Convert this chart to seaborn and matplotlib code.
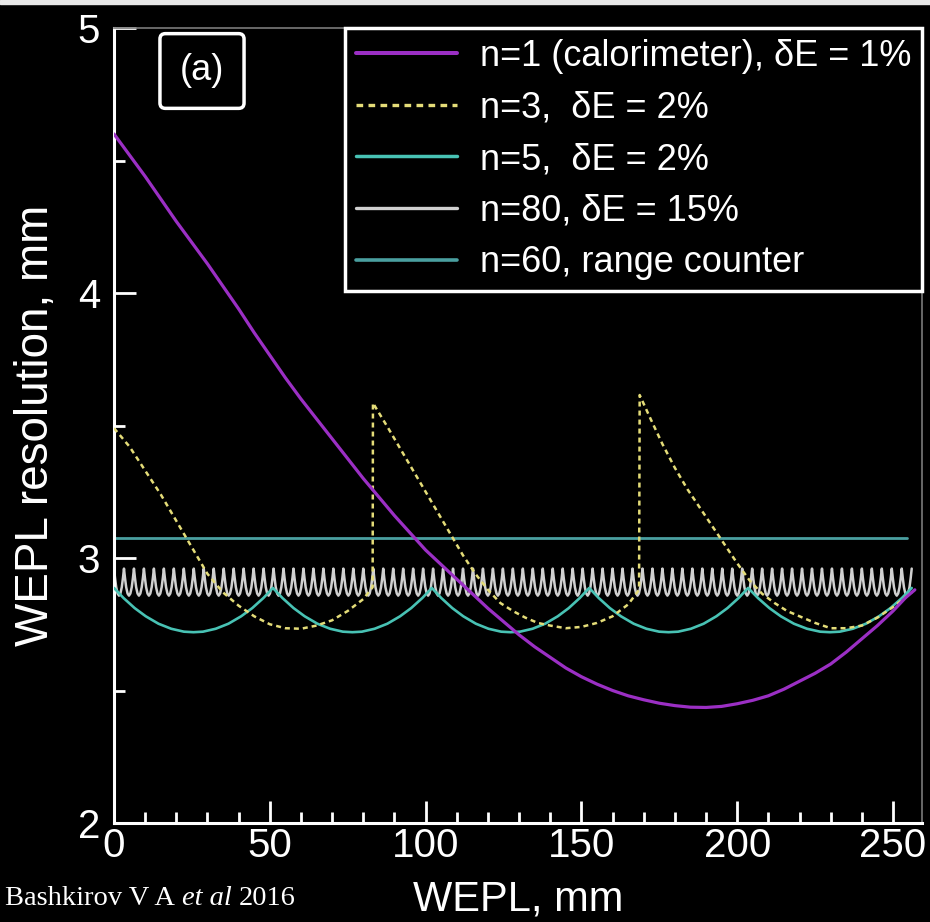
import matplotlib
matplotlib.use("Agg")
import matplotlib.pyplot as plt
import numpy as np
import pandas as pd
import seaborn as sns
from matplotlib.ticker import MultipleLocator
from matplotlib.patches import Rectangle

# ---------------- data ----------------
# n=1 calorimeter
cal_x = [0, 5, 10, 15, 20, 25, 30, 35, 40, 45, 50, 55, 60, 65, 70, 75, 80, 85,
         90, 95, 100, 105, 110, 115, 120, 125, 130, 135, 140, 145, 150, 155,
         160, 165, 170, 175, 180, 185, 190, 195, 200, 205, 210, 215, 220, 225,
         230, 235, 240, 245, 250, 254, 257]
cal_y = [4.60, 4.52, 4.44, 4.355, 4.27, 4.19, 4.11, 4.025, 3.94, 3.85, 3.765,
         3.68, 3.60, 3.525, 3.45, 3.375, 3.30, 3.23, 3.16, 3.095, 3.03, 2.975,
         2.92, 2.865, 2.81, 2.76, 2.71, 2.665, 2.625, 2.585, 2.552, 2.524, 2.50,
         2.48, 2.465, 2.452, 2.443, 2.437, 2.436, 2.44, 2.45, 2.463, 2.48,
         2.505, 2.535, 2.565, 2.60, 2.645, 2.695, 2.745, 2.80, 2.85, 2.88]

# n=3, dE=2%
n3_x = [0, 5, 10, 15, 20, 25, 30, 35, 40, 45, 50, 55, 60, 65, 70, 75, 80, 83.0,
        83.1, 88, 92, 96, 100, 104, 108, 112, 116, 120, 124, 128, 132, 136, 140,
        145, 150, 155, 160, 165, 168.5,
        168.7, 172, 176, 180, 184, 188, 192, 196, 200, 204, 208, 212, 216, 220,
        225, 230, 235, 240, 245, 250, 256]
n3_y = [3.49, 3.42, 3.33, 3.24, 3.14, 3.04, 2.94, 2.87, 2.82, 2.78, 2.75, 2.735,
        2.733, 2.745, 2.765, 2.80, 2.845, 2.89,
        3.585, 3.49, 3.41, 3.33, 3.25, 3.17, 3.09, 3.01, 2.94, 2.88, 2.83, 2.80,
        2.775, 2.755, 2.745, 2.735, 2.74, 2.755, 2.78, 2.825, 2.88,
        3.615, 3.53, 3.43, 3.34, 3.26, 3.19, 3.12, 3.05, 2.98, 2.915, 2.865,
        2.83, 2.80, 2.78, 2.755, 2.735, 2.735, 2.745, 2.775, 2.815, 2.87]

# n=5, dE=2%: layer boundaries and arc profile within one layer
n5_edges = [0, 51, 102, 152.5, 203.5, 256]
n5_arc_frac = [0, 0.06, 0.13, 0.2, 0.28, 0.36, 0.44, 0.5, 0.56, 0.64, 0.72,
               0.8, 0.87, 0.94, 1.0]
n5_arc_y = [2.887, 2.849, 2.811, 2.780, 2.752, 2.733, 2.722, 2.720, 2.722,
            2.733, 2.752, 2.780, 2.811, 2.849, 2.887]

# n=80, dE=15%: layer boundaries and arc profile within one layer
n80_edges = [0, 3.2, 6.4, 9.6, 12.8, 16, 19.2, 22.4, 25.6, 28.8, 32, 35.2,
             38.4, 41.6, 44.8, 48, 51.2, 54.4, 57.6, 60.8, 64, 67.2, 70.4,
             73.6, 76.8, 80, 83.2, 86.4, 89.6, 92.8, 96, 99.2, 102.4, 105.6,
             108.8, 112, 115.2, 118.4, 121.6, 124.8, 128, 131.2, 134.4, 137.6,
             140.8, 144, 147.2, 150.4, 153.6, 156.8, 160, 163.2, 166.4, 169.6,
             172.8, 176, 179.2, 182.4, 185.6, 188.8, 192, 195.2, 198.4, 201.6,
             204.8, 208, 211.2, 214.4, 217.6, 220.8, 224, 227.2, 230.4, 233.6,
             236.8, 240, 243.2, 246.4, 249.6, 252.8, 256]
n80_arc_frac = [0, 0.1, 0.22, 0.36, 0.5, 0.64, 0.78, 0.9, 1.0]
n80_arc_y = [2.96, 2.925, 2.89, 2.866, 2.858, 2.866, 2.89, 2.925, 2.96]

# n=60 range counter
rc_x = [0, 254.5]
rc_y = [3.075, 3.075]

labels = ["n=1 (calorimeter), \u03b4E = 1%",
          "n=3,  \u03b4E = 2%",
          "n=5,  \u03b4E = 2%",
          "n=80, \u03b4E = 15%",
          "n=60, range counter"]
x_ticks = [0, 50, 100, 150, 200, 250]
y_ticks = [2, 3, 4, 5]


def scallop(edges, frac, prof):
    xs, ys = [], []
    for i in range(len(edges) - 1):
        a, b = edges[i], edges[i + 1]
        for j, (f, v) in enumerate(zip(frac, prof)):
            if i > 0 and j == 0:
                continue
            xs.append(a + f * (b - a))
            ys.append(v)
    return xs, ys


n5_x, n5_y = scallop(n5_edges, n5_arc_frac, n5_arc_y)
n80_x, n80_y = scallop(n80_edges, n80_arc_frac, n80_arc_y)

# ---------------- style ----------------
sns.set_theme(style="ticks")
plt.rcParams["font.family"] = ["Liberation Sans", "DejaVu Sans"]

W, H = 930, 922
fig = plt.figure(figsize=(W / 100, H / 100), dpi=100, facecolor="black")
ax = fig.add_axes([114 / W, (H - 823) / H, (922 - 114) / W, (823 - 28) / H])
ax.set_facecolor("black")

c_cal = "#9b2fc4"
c_n3 = "#e4dc78"
c_n5 = "#48c2b4"
c_n80 = "#d0d0d0"
c_rc = "#4a9fa0"

kw = dict(ax=ax, sort=False, estimator=None)
sns.lineplot(x=n80_x, y=n80_y, color=c_n80, lw=1.8, label=labels[3], zorder=2, **kw)
sns.lineplot(x=rc_x, y=rc_y, color=c_rc, lw=2.0, label=labels[4], zorder=2, **kw)
sns.lineplot(x=n5_x, y=n5_y, color=c_n5, lw=1.9, label=labels[2], zorder=3, **kw)
sns.lineplot(x=n3_x, y=n3_y, color=c_n3, lw=1.8, linestyle=(0, (2.0, 1.6)),
             label=labels[1], zorder=4, **kw)
sns.lineplot(x=cal_x, y=cal_y, color=c_cal, lw=2.3, label=labels[0], zorder=5, **kw)

ax.set_xlim(0, 259.3)
ax.set_ylim(2, 5)
ax.set_xticks(x_ticks)
ax.set_yticks(y_ticks)
ax.xaxis.set_minor_locator(MultipleLocator(10))
ax.yaxis.set_minor_locator(MultipleLocator(0.5))
ax.tick_params(axis="both", which="major", direction="in", length=16, width=2,
               color="white", labelcolor="white", labelsize=29,
               top=False, right=False)
ax.tick_params(axis="both", which="minor", direction="in", length=8, width=2,
               color="white", top=False, right=False)
ax.tick_params(axis="y", which="major", pad=10)
ax.tick_params(axis="x", which="major", pad=3)

for s in ["left", "bottom"]:
    ax.spines[s].set_color("white")
    ax.spines[s].set_linewidth(2.2)
for s in ["top", "right"]:
    ax.spines[s].set_color("#7a7a7a")
    ax.spines[s].set_linewidth(1.2)

ax.set_xlabel("WEPL, mm", fontsize=30, color="white", labelpad=10)
ax.set_ylabel("WEPL resolution, mm", fontsize=33, color="white", labelpad=14)

handles, labs = ax.get_legend_handles_labels()
order = [labs.index(l) for l in labels]
leg = ax.legend([handles[i] for i in order], [labs[i] for i in order],
                loc="upper right", bbox_to_anchor=(1.0, 1.0), borderaxespad=0,
                frameon=True, fancybox=False, edgecolor="white",
                facecolor="black", framealpha=1, fontsize=26,
                labelcolor="white", handlelength=2.8, handletextpad=0.62,
                labelspacing=0.46, borderpad=0.3)
leg.get_frame().set_linewidth(2.5)
for h in leg.legend_handles:
    h.set_linewidth(h.get_linewidth() + 0.6)

ax.text((202 - 114) / 808, (823 - 71) / 795, "(a)", transform=ax.transAxes,
        ha="center", va="center", fontsize=26, color="white",
        bbox=dict(boxstyle="round,pad=0.55,rounding_size=0.15", fc="black",
                  ec="white", lw=2.5), zorder=10)

# top light strip
fig.add_artist(Rectangle((0, 1 - 4 / H), 1, 4 / H, transform=fig.transFigure,
                         color="#e8e8e8", zorder=20))

# footer citation
y0 = 1 - 905 / H
serif = ["Liberation Serif", "DejaVu Serif"]
fs = 20.5
t1 = fig.text(5 / W, y0, "Bashkirov V A", fontsize=fs, color="white",
              family=serif, va="baseline")
fig.canvas.draw()
r = fig.canvas.get_renderer()
bb = t1.get_window_extent(r)
sp = 7
t2 = fig.text((bb.x1 + sp) / W, y0, "et al", fontsize=fs, color="white",
              family=serif, style="italic", va="baseline")
bb2 = t2.get_window_extent(r)
fig.text((bb2.x1 + sp) / W, y0, "2016", fontsize=fs, color="white",
         family=serif, va="baseline")

fig.savefig("out.png", dpi=100, facecolor="black")
